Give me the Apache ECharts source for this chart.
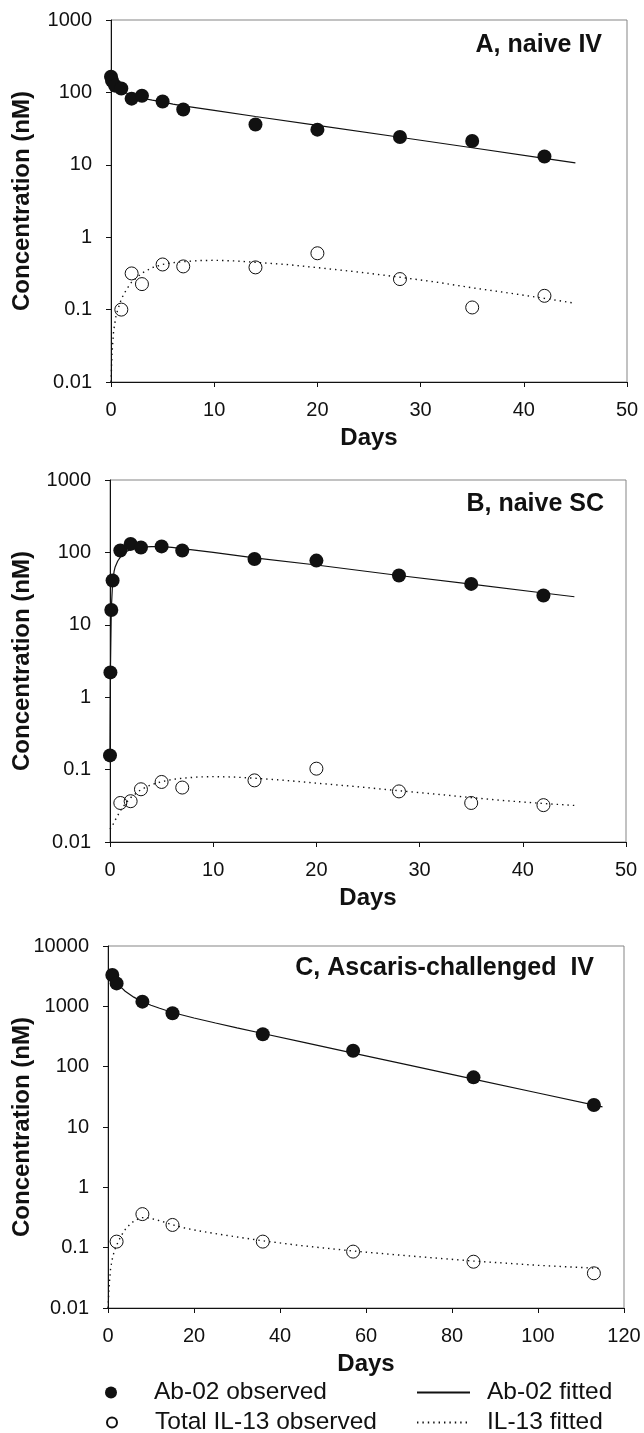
<!DOCTYPE html>
<html><head><meta charset="utf-8">
<script src="https://cdn.jsdelivr.net/npm/echarts@6/dist/echarts.min.js"></script>
<style>html,body{margin:0;padding:0;background:#fff}#c{width:644px;height:1433px}</style>
</head><body><div id="c"></div>
<script>
// ---------- data ----------
const panelTitles = ['A, naive IV', 'B, naive SC', 'C, Ascaris-challenged  IV'];
const yTickLabels = ['0.01', '0.1', '1', '10', '100', '1000', '10000'];
const xMaxes = [50, 50, 120];
const xIntervals = [10, 10, 20];
const yMaxes = [1000, 1000, 10000];
const legendNames = ['Ab-02 observed', 'Total IL-13 observed', 'Ab-02 fitted', 'IL-13 fitted'];

// Panel A (naive IV)
const aAbObserved = [[0, 165], [0.1, 145], [0.4, 124], [1, 113], [2, 82], [3, 90], [5, 75], [7, 58], [14, 36], [20, 30.6], [28, 24.2], [35, 21.3], [42, 13]];
const aIlObserved = [[1, 0.1], [2, 0.316], [3, 0.225], [5, 0.42], [7, 0.395], [14, 0.383], [20, 0.6], [28, 0.264], [35, 0.107], [42, 0.155]];
const aAbFitted = [[0, 170], [0.125, 154], [0.25, 141], [0.5, 124], [0.75, 115], [1, 108], [1.5, 98], [2, 91], [2.5, 87], [3, 83], [4, 78], [5, 74], [6, 69], [7, 65], [10, 56.5], [14, 46.5], [20, 35], [28, 24], [35, 17.2], [42, 12.3], [45, 10.6]];
const aIlFitted = [[0, 0.01], [0.1, 0.025], [0.25, 0.05], [0.5, 0.085], [1, 0.14], [1.5, 0.19], [2, 0.24], [3, 0.32], [4, 0.38], [5, 0.42], [6, 0.445], [7, 0.46], [8.5, 0.475], [10, 0.48], [12, 0.47], [14, 0.45], [17, 0.42], [20, 0.38], [24, 0.33], [28, 0.28], [31.5, 0.24], [35, 0.2], [38.5, 0.17], [42, 0.143], [45, 0.122]];

// Panel B (naive SC)
const bAbObserved = [[0, 0.157], [0.04, 2.2], [0.125, 16], [0.25, 41], [1, 106], [2, 131], [3, 117], [5, 121], [7, 106], [14, 81], [20, 77], [28, 48], [35, 36.7], [42, 25.4]];
const bIlObserved = [[1, 0.0346], [2, 0.0366], [3, 0.0535], [5, 0.0675], [7, 0.0565], [14, 0.071], [20, 0.103], [28, 0.05], [35, 0.0346], [42, 0.0323]];
const bAbFitted = [[0, 0.16], [0.04, 2.2], [0.125, 16], [0.25, 38], [0.4, 55], [0.5, 63], [0.75, 76], [1, 86], [1.25, 94], [1.5, 101], [2, 110], [2.5, 115], [3, 118], [4, 120], [5, 120], [6, 117], [7, 113], [10, 100], [14, 84], [20, 67], [28, 48], [35, 36.5], [42, 27.5], [45, 24.4]];
const bIlFitted = [[0, 0.015], [0.25, 0.017], [0.5, 0.02], [1, 0.027], [1.5, 0.034], [2, 0.041], [3, 0.053], [4, 0.062], [5, 0.068], [6, 0.073], [7, 0.076], [8.5, 0.079], [10, 0.08], [12, 0.079], [14, 0.076], [17, 0.071], [20, 0.065], [24, 0.058], [28, 0.051], [31.5, 0.046], [35, 0.041], [38.5, 0.037], [42, 0.034], [45, 0.032]];

// Panel C (Ascaris-challenged IV)
const cAbObserved = [[1, 3300], [2, 2400], [8, 1195], [15, 766], [36, 344], [57, 184], [85, 66.5], [113, 23.2]];
const cIlObserved = [[2, 0.126], [8, 0.36], [15, 0.238], [36, 0.126], [57, 0.086], [85, 0.0585], [113, 0.0376]];
const cAbFitted = [[0.5, 3500], [1, 3150], [2, 2500], [3, 2080], [4, 1780], [6, 1420], [8, 1190], [10, 1040], [12, 930], [15, 790], [20, 640], [25, 530], [30, 440], [36, 355], [45, 258], [57, 168], [70, 106], [85, 62], [100, 36.6], [115, 21.5]];
const cIlFitted = [[0, 0.01], [0.3, 0.025], [0.6, 0.045], [1, 0.065], [1.5, 0.09], [2, 0.11], [3, 0.155], [4, 0.2], [5, 0.24], [6, 0.275], [7, 0.3], [8, 0.315], [9, 0.315], [10, 0.305], [12, 0.28], [15, 0.24], [18, 0.21], [22, 0.185], [28, 0.158], [36, 0.13], [45, 0.108], [57, 0.088], [70, 0.073], [85, 0.06], [100, 0.051], [115, 0.045]];

const panels = [
  { abObs: aAbObserved, ilObs: aIlObserved, abFit: aAbFitted, ilFit: aIlFitted },
  { abObs: bAbObserved, ilObs: bIlObserved, abFit: bAbFitted, ilFit: bIlFitted },
  { abObs: cAbObserved, ilObs: cIlObserved, abFit: cAbFitted, ilFit: cIlFitted }
];

// ---------- layout / style ----------
const FONT = '"Liberation Sans", Arial, sans-serif';
const INK = '#111111';
const NONE = 'rgba(0,0,0,0)';
const grids = [
  { left: 111, top: 20, width: 516, height: 362 },
  { left: 110, top: 480, width: 516, height: 362 },
  { left: 108, top: 946, width: 516, height: 362 }
];
const yNameGaps = [77, 76, 74];
const titlePos = [{ right: 42, top: 33 }, { right: 40, top: 492 }, { right: 50, top: 956 }];
const legendPos = [
  { left: 105, top: 1380, itemWidth: 76, itemHeight: 12, pad: 0 },
  { left: 106, top: 1410, itemWidth: 76, itemHeight: 10, pad: 0 },
  { left: 416, top: 1380, itemWidth: 53, itemHeight: 12, pad: 12 },
  { left: 416, top: 1410, itemWidth: 53, itemHeight: 12, pad: 12 }
];

const option = {
  animation: false,
  backgroundColor: '#fff',
  title: panelTitles.map((t, i) => ({
    text: t, right: titlePos[i].right, top: titlePos[i].top, padding: 0,
    textStyle: { fontFamily: FONT, fontSize: 25, fontWeight: 'bold', color: INK }
  })),
  grid: grids.map(g => Object.assign({
    show: true, borderColor: '#858585', borderWidth: 1, backgroundColor: 'transparent',
    outerBoundsMode: 'none', containLabel: false
  }, g)),
  xAxis: grids.map((g, i) => ({
    type: 'value', gridIndex: i, min: 0, max: xMaxes[i], interval: xIntervals[i],
    axisLine: { show: true, onZero: false, lineStyle: { color: INK, width: 1 } },
    axisTick: { show: true, inside: false, length: 5, lineStyle: { color: INK } },
    axisLabel: { fontFamily: FONT, fontSize: 20, color: INK, margin: 18 },
    splitLine: { show: false },
    name: 'Days', nameLocation: 'middle', nameGap: 44, nameMoveOverlap: false,
    nameTextStyle: { fontFamily: FONT, fontSize: 24, fontWeight: 'bold', color: INK }
  })),
  yAxis: grids.map((g, i) => ({
    type: 'log', logBase: 10, gridIndex: i, min: 0.01, max: yMaxes[i],
    axisLine: { show: true, onZero: false, lineStyle: { color: INK, width: 1 } },
    axisTick: { show: true, inside: false, length: 5, lineStyle: { color: INK } },
    axisLabel: {
      fontFamily: FONT, fontSize: 20, color: INK, margin: 19,
      formatter: v => yTickLabels[Math.round(Math.log10(v)) + 2]
    },
    splitLine: { show: false },
    minorTick: { show: false },
    name: 'Concentration (nM)', nameLocation: 'middle', nameGap: yNameGaps[i], nameRotate: 90,
    nameMoveOverlap: false,
    nameTextStyle: { fontFamily: FONT, fontSize: 24, fontWeight: 'bold', color: INK }
  })),
  legend: legendNames.map((n, k) => ({
    left: legendPos[k].left, top: legendPos[k].top, orient: 'horizontal',
    itemWidth: legendPos[k].itemWidth, itemHeight: legendPos[k].itemHeight,
    selectedMode: false, padding: 0,
    textStyle: { fontFamily: FONT, fontSize: 24.5, color: INK, lineHeight: 24, padding: [0, 0, 0, legendPos[k].pad] },
    data: [n]
  })),
  series: []
};

panels.forEach((p, i) => {
  option.series.push(
    {
      name: 'Ab-02 fitted', type: 'line', xAxisIndex: i, yAxisIndex: i, data: p.abFit,
      symbol: 'none', smooth: false, silent: true, z: 2,
      itemStyle: { color: NONE, borderColor: NONE, opacity: 0 },
      lineStyle: { color: INK, width: 1.2 }
    },
    {
      name: 'IL-13 fitted', type: 'line', xAxisIndex: i, yAxisIndex: i, data: p.ilFit,
      symbol: 'none', smooth: false, silent: true, z: 2,
      itemStyle: { color: NONE, borderColor: NONE, opacity: 0 },
      lineStyle: { color: INK, width: 1.4, type: [1.4, 4] }
    },
    {
      name: 'Ab-02 observed', type: 'scatter', xAxisIndex: i, yAxisIndex: i, data: p.abObs,
      symbol: 'circle', symbolSize: 14, clip: false, silent: true, z: 3,
      itemStyle: { color: INK, opacity: 1 }
    },
    {
      name: 'Total IL-13 observed', type: 'scatter', xAxisIndex: i, yAxisIndex: i, data: p.ilObs,
      symbol: 'circle', symbolSize: 13, clip: false, silent: true, z: 3,
      itemStyle: { color: NONE, borderColor: INK, borderWidth: 1, opacity: 1 }
    }
  );
});

const chart = echarts.init(document.getElementById('c'), null, { renderer: 'canvas' });
chart.setOption(option);
</script>
</body></html>
